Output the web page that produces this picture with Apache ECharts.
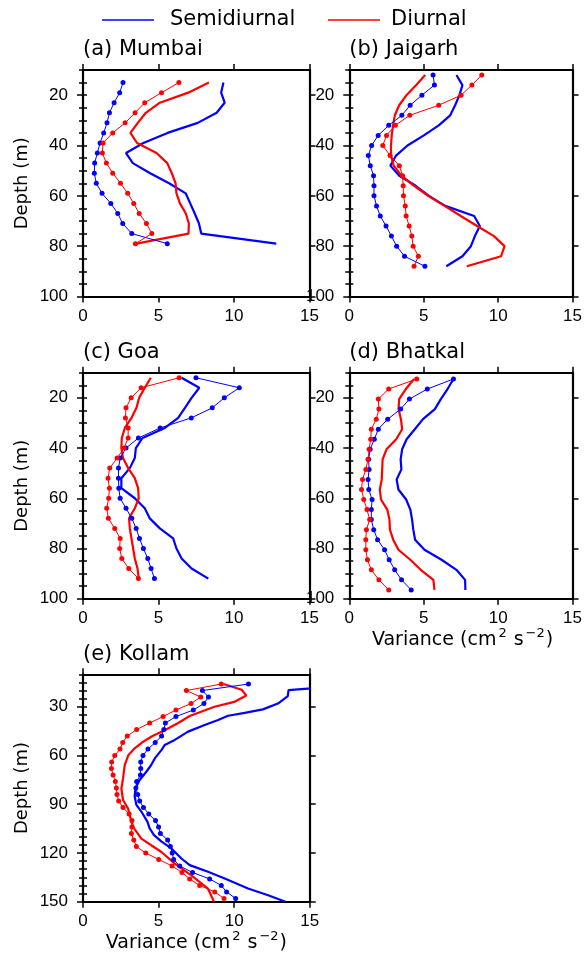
<!DOCTYPE html>
<html><head><meta charset="utf-8">
<script src="https://cdn.jsdelivr.net/npm/echarts@6/dist/echarts.min.js"></script>
<style>html,body{margin:0;padding:0;background:#fff}#c{width:585px;height:967px}</style>
</head><body><div id="c"></div>
<script>
// ---------- DATA ----------
// (a) Mumbai
const mumbaiDepth = [15,19,23,27,31,35,39,43,47,51,55,59,63,67,71,75,79];
const mumbaiSemiPts = [2.65,2.43,2.06,1.75,1.59,1.37,1.13,0.95,0.77,0.75,0.88,1.26,1.84,2.30,2.63,3.23,5.58];
const mumbaiDiurPts = [6.35,5.2,4.09,3.45,2.79,1.97,1.33,1.28,1.55,1.97,2.48,2.96,3.36,3.72,4.2,4.56,3.47];
const mumbaiSemiLine = [9.3,9.15,9.38,8.85,7.6,5.6,4.0,2.85,3.3,4.45,5.7,6.8,7.1,7.4,7.68,7.83,12.8];
const mumbaiDiurLine = [8.34,6.97,5.09,4.16,3.63,3.14,3.58,4.87,5.58,5.88,6.13,6.19,6.42,6.81,7.01,6.99,3.54];
// (b) Jaigarh
const jaigarhDepth = [12,16,20,24,28,32,36,40,44,48,52,56,60,64,68,72,76,80,84,88];
const jaigarhSemiPts = [5.63,5.72,4.88,4.09,3.53,2.65,1.94,1.5,1.28,1.41,1.63,1.66,1.66,1.83,2.08,2.47,2.83,3.18,3.71,5.08];
const jaigarhDiurPts = [8.9,8.24,7.51,6.01,4.06,3.09,2.5,2.25,2.74,3.36,3.58,3.62,3.64,3.76,3.82,4.02,4.2,4.29,4.64,4.35];
const jaigarhSemiLine = [7.2,7.6,7.4,7.11,6.78,6.01,5.01,3.91,3.14,2.76,3.36,4.46,5.35,6.45,8.39,8.77,8.44,8.17,7.6,6.52];
const jaigarhDiurLine = [5.1,4.5,3.84,3.35,3.06,2.94,2.85,2.8,2.8,2.98,3.5,4.35,5.3,6.4,7.49,8.59,9.72,10.43,10.2,7.89];
// (c) Goa
const goaDepth = [12,16,20,24,28,32,36,40,44,48,52,56,60,64,68,72,76,80,84,88,92];
const goaSemiPts = [7.48,10.35,9.36,8.56,7.17,5.11,3.67,2.85,2.46,2.35,2.35,2.37,2.46,2.85,3.23,3.52,3.74,4.0,4.29,4.51,4.73];
const goaDiurPts = [6.37,3.85,3.19,2.85,2.81,2.99,2.99,2.72,2.26,1.77,1.66,1.75,1.7,1.57,1.68,2.1,2.46,2.43,2.57,3.03,3.67];
const goaSemiLine = [6.53,7.7,7.19,6.75,6.3,5.42,3.94,3.5,3.43,3.1,2.54,2.54,3.43,4.09,4.42,5.09,5.97,6.19,6.53,7.19,8.3];
const goaDiurLine = [4.49,4.09,3.72,3.54,3.21,2.77,2.57,2.54,2.65,2.99,3.43,3.65,3.69,3.43,3.05,3.1,3.21,3.32,3.43,3.61,3.69];
// (d) Bhatkal
const bhatkalDepth = [12.5,16.5,20.5,24.5,28.5,32.5,36.5,40.5,44.5,48.5,52.5,56.5,60.5,64.5,68.5,72.5,76.5,80.5,84.5,88.5,92.5,96.5];
const bhatkalSemiPts = [7.0,5.24,4.04,3.45,2.58,1.95,1.68,1.4,1.3,1.33,1.26,1.31,1.53,1.48,1.48,1.64,1.9,2.37,2.68,3.05,3.51,4.16];
const bhatkalDiurPts = [4.53,2.65,1.95,1.99,1.81,1.48,1.44,1.33,1.26,1.11,0.89,0.82,0.97,1.19,1.37,1.15,1.11,1.11,1.22,1.48,1.99,2.65];
const bhatkalSemiLine = [7.0,6.6,6.15,5.75,4.95,4.4,3.85,3.55,3.45,3.5,3.18,3.3,3.82,4.1,4.22,4.3,4.42,5.05,6.2,7.2,7.78,7.8];
const bhatkalDiurLine = [4.35,3.8,3.35,3.31,3.47,3.55,3.15,2.5,2.24,2.21,2.18,2.05,2.13,2.55,2.7,2.73,2.95,3.3,4.1,4.8,5.65,5.72];
// (e) Kollam
const kollamDepth = [16,20,24,28,32,36,40,44,48,52,56,60,64,68,72,76,80,84,88,92,96,100,104,108,112,116,120,124,128,132,136,140,144,148];
const kollamSemiPts = [10.95,7.9,8.3,8.0,7.3,6.15,5.45,5.35,5.2,4.78,4.3,3.97,3.82,3.82,3.8,3.55,3.5,3.62,3.75,4.0,4.35,4.8,5.0,5.12,5.6,5.78,5.9,6.0,6.4,7.25,8.38,9.15,9.5,10.1];
const kollamDiurPts = [9.15,6.84,7.79,7.15,6.15,5.3,4.41,3.55,2.93,2.63,2.45,2.1,1.9,1.88,1.99,2.14,2.21,2.25,2.36,2.65,3.05,3.24,3.24,3.2,3.36,3.53,4.15,5.01,5.89,6.55,7.06,7.72,8.72,9.33];
const kollamSemiLineDepth = [18,19.7,23.5,28,31.6,33.7,35.5,38.1,41.2,45.3,50.4,53.5,56.5,61.8,66,70,75.1,80.1,85.2,90.4,94.5,100.7,104.8,109,113,117.2,123.4,127.5,131.6,135.7,141.9,146,150];
const kollamSemiLine = [16,13.6,13.55,12.9,11.9,10.7,9.6,8.94,8.05,6.95,6.07,5.41,5.2,4.75,4.5,4.19,3.75,3.47,3.42,3.53,3.86,4.26,4.41,4.7,5.2,5.85,6.51,7.06,8.27,9.38,10.92,12.25,13.4];
const kollamDiurLineDepth = [16,19.5,23,27,30,35.7,40,44,48,52,55.6,59.8,65.9,74.1,80.3,87.4,92.6,100.8,104.9,111.2,119.4,126.6,133.8,142,150];
const kollamDiurLine = [9.3,10.5,10.8,10.0,8.7,7.06,6.3,5.5,4.6,3.9,3.42,3.0,2.76,2.65,2.54,2.65,2.98,3.2,3.38,3.86,5.19,6.07,7.17,8.27,8.67];

// tick labels
const yTicksShallow = [20,40,60,80,100];
const yTicksDeep = [30,60,90,120,150];
const titles = ['(a) Mumbai','(b) Jaigarh','(c) Goa','(d) Bhatkal','(e) Kollam'];
const legendNames = ['Semidiurnal','Diurnal'];

// ---------- LAYOUT ----------
const FONT = '"Liberation Sans", Arial, Helvetica, sans-serif';
const TFONT = '"DejaVu Sans", "Liberation Sans", sans-serif';
const BLUE = '#0000ff', RED = '#ff0000';
const zip = (v, d) => v.map((x, i) => [x, d[i]]);

const panels = [
  {left:83, top:70, w:226.5, h:226.5, ymax:100, ticks:yTicksShallow,
   semiLine: zip(mumbaiSemiLine, mumbaiDepth), diurLine: zip(mumbaiDiurLine, mumbaiDepth),
   semiPts: zip(mumbaiSemiPts, mumbaiDepth), diurPts: zip(mumbaiDiurPts, mumbaiDepth)},
  {left:349.3, top:70, w:226.5, h:226.5, ymax:100, ticks:yTicksShallow,
   semiLine: zip(jaigarhSemiLine, jaigarhDepth), diurLine: zip(jaigarhDiurLine, jaigarhDepth),
   semiPts: zip(jaigarhSemiPts, jaigarhDepth), diurPts: zip(jaigarhDiurPts, jaigarhDepth)},
  {left:83, top:372.7, w:226.5, h:226, ymax:100, ticks:yTicksShallow,
   semiLine: zip(goaSemiLine, goaDepth), diurLine: zip(goaDiurLine, goaDepth),
   semiPts: zip(goaSemiPts, goaDepth), diurPts: zip(goaDiurPts, goaDepth)},
  {left:349.3, top:372.7, w:226.5, h:226, ymax:100, ticks:yTicksShallow,
   semiLine: zip(bhatkalSemiLine, bhatkalDepth), diurLine: zip(bhatkalDiurLine, bhatkalDepth),
   semiPts: zip(bhatkalSemiPts, bhatkalDepth), diurPts: zip(bhatkalDiurPts, bhatkalDepth)},
  {left:83, top:674.3, w:226.7, h:227.4, ymax:150, ticks:yTicksDeep,
   semiLine: zip(kollamSemiLine, kollamSemiLineDepth), diurLine: zip(kollamDiurLine, kollamDiurLineDepth),
   semiPts: zip(kollamSemiPts, kollamDepth), diurPts: zip(kollamDiurPts, kollamDepth)}
];

const grid = [], xAxis = [], yAxis = [], series = [], graphic = [];
const mkLine = () => ({show:true, onZero:false, lineStyle:{color:'#000', width:2.2}});
const mkTick = (len, extra) => Object.assign({show:true, length:len, lineStyle:{color:'#000', width:1.5}}, extra || {});
panels.forEach((p, i) => {
  grid.push({left:p.left, top:p.top, width:p.w, height:p.h});
  xAxis.push({gridIndex:i, type:'value', min:0, max:15, interval:5, splitLine:{show:false},
    position:'bottom', axisLine:mkLine(), axisTick:mkTick(6),
    axisLabel:{show:true, color:'#000', fontSize:17, fontFamily:FONT, margin:11}});
  xAxis.push({gridIndex:i, type:'value', min:0, max:15, interval:5, splitLine:{show:false},
    position:'top', axisLine:mkLine(), axisTick:mkTick(6), axisLabel:{show:false}});
  const yi = yAxis.length;
  const yBase = () => ({gridIndex:i, type:'value', inverse:true, min:10, max:p.ymax, splitLine:{show:false}});
  // left: major ticks + labels
  yAxis.push(Object.assign(yBase(), {position:'left', axisLine:mkLine(),
    axisTick:mkTick(6, {customValues:p.ticks}),
    axisLabel:{show:true, customValues:p.ticks, color:'#000', fontSize:17, fontFamily:FONT, margin:15}}));
  // right: major ticks
  yAxis.push(Object.assign(yBase(), {position:'right', axisLine:mkLine(),
    axisTick:mkTick(6, {customValues:p.ticks}), axisLabel:{show:false}}));
  // minor ticks every 5, one axis on each side
  ['left', 'right'].forEach(pos => {
    yAxis.push(Object.assign(yBase(), {position:pos, interval:5, axisLine:{show:false},
      axisTick:mkTick(4), axisLabel:{show:false}}));
  });

  const xi = i * 2;
  const base = {type:'line', xAxisIndex:xi, yAxisIndex:yi, animation:false, clip:true, silent:true};
  series.push(Object.assign({}, base, {name:legendNames[0], data:p.semiLine, showSymbol:false, symbol:'none',
    lineStyle:{color:BLUE, width:2.2}, itemStyle:{color:BLUE}}));
  series.push(Object.assign({}, base, {name:legendNames[1], data:p.diurLine, showSymbol:false, symbol:'none',
    lineStyle:{color:RED, width:2.2}, itemStyle:{color:RED}}));
  series.push(Object.assign({}, base, {name:legendNames[0]+' pts', data:p.semiPts, symbol:'circle', symbolSize:5,
    lineStyle:{color:BLUE, width:1}, itemStyle:{color:BLUE}}));
  series.push(Object.assign({}, base, {name:legendNames[1]+' pts', data:p.diurPts, symbol:'circle', symbolSize:5,
    lineStyle:{color:RED, width:1}, itemStyle:{color:RED}}));

  // panel title
  graphic.push({type:'text', x:p.left, y:p.top - 20,
    style:{text:titles[i], fill:'#000', font:'21px ' + TFONT, align:'left', verticalAlign:'middle',
      textAlign:'left', textVerticalAlign:'middle'}});
});

// Depth labels (panels a, c, e)
[0, 2, 4].forEach(i => {
  const p = panels[i];
  graphic.push({type:'text', x:22, y:p.top + p.h / 2, rotation:Math.PI / 2,
    style:{text:'Depth (m)', fill:'#000', font:'18px ' + TFONT, align:'center', verticalAlign:'middle',
      textAlign:'center', textVerticalAlign:'middle'}});
});
// Variance labels (panels d, e)
[3, 4].forEach(i => {
  const p = panels[i];
  graphic.push({type:'text', x:p.left + p.w / 2, y:p.top + p.h + 41,
    style:{text:'Variance (cm{s|2} s{s|\u22122})', fill:'#000', font:'19px ' + TFONT, lineHeight:26,
      align:'center', verticalAlign:'middle', textAlign:'center', textVerticalAlign:'middle',
      rich:{s:{fontSize:13, fontFamily:'DejaVu Sans', fill:'#000', lineHeight:12, verticalAlign:'top', padding:[0,1,0,2]}}}});
});
// Legend
graphic.push({type:'line', shape:{x1:102, y1:20, x2:154, y2:20}, style:{stroke:BLUE, lineWidth:1.5}});
graphic.push({type:'text', x:170, y:20, style:{text:legendNames[0], fill:'#000', font:'21px ' + TFONT,
  align:'left', verticalAlign:'middle', textAlign:'left', textVerticalAlign:'middle'}});
graphic.push({type:'line', shape:{x1:328, y1:20, x2:380, y2:20}, style:{stroke:RED, lineWidth:1.5}});
graphic.push({type:'text', x:391, y:20, style:{text:legendNames[1], fill:'#000', font:'21px ' + TFONT,
  align:'left', verticalAlign:'middle', textAlign:'left', textVerticalAlign:'middle'}});

const chart = echarts.init(document.getElementById('c'), null, {renderer:'canvas'});
chart.setOption({animation:false, backgroundColor:'#fff', grid, xAxis, yAxis, series, graphic});
</script></body></html>
